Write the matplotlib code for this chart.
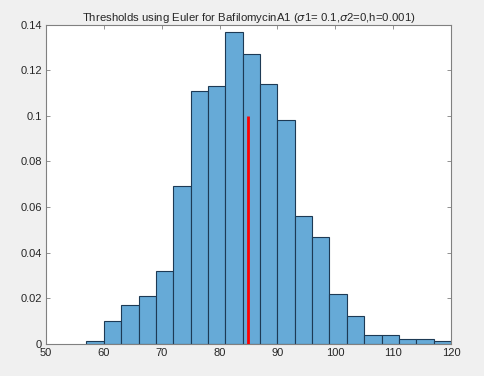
import numpy as np
import matplotlib
matplotlib.use("Agg")
import matplotlib.pyplot as plt

# Histogram of threshold values (probability per bin)
bin_edges = [57, 60, 63, 66, 69, 72, 75, 78, 81, 84, 87, 90, 93, 96, 99,
             102, 105, 108, 111, 114, 117, 120]
probabilities = [0.001, 0.010, 0.017, 0.021, 0.032, 0.069, 0.111, 0.113,
                 0.137, 0.127, 0.114, 0.098, 0.056, 0.047, 0.022, 0.012,
                 0.004, 0.004, 0.002, 0.002, 0.001]
marker_x = 85
marker_top = 0.1

x_ticks = [50, 60, 70, 80, 90, 100, 110, 120]
y_ticks = [0, 0.02, 0.04, 0.06, 0.08, 0.1, 0.12, 0.14]
y_tick_labels = ["0", "0.02", "0.04", "0.06", "0.08", "0.1", "0.12", "0.14"]

plt.rcParams["font.family"] = ["Liberation Sans", "DejaVu Sans"]
plt.rcParams["mathtext.fontset"] = "dejavusans"

fig = plt.figure(figsize=(4.85, 3.76), dpi=100)
fig.patch.set_facecolor("#f0f0f0")
ax = fig.add_axes([0.0948, 0.0859, 0.8351, 0.8484])
ax.set_facecolor("white")

edges = np.array(bin_edges, dtype=float)
widths = np.diff(edges)
ax.bar(edges[:-1], probabilities, width=widths, align="edge",
       color="#66aad7", edgecolor="#1d3a55", linewidth=0.8, zorder=2)

ax.plot([marker_x, marker_x], [0, marker_top], color="#ff0000",
        linewidth=2.0, solid_capstyle="butt", zorder=3)

ax.set_xlim(50, 120)
ax.set_ylim(0, 0.14)
ax.set_xticks(x_ticks)
ax.set_yticks(y_ticks)
ax.set_yticklabels(y_tick_labels)

for s in ax.spines.values():
    s.set_color("#808080")
    s.set_linewidth(0.8)
ax.tick_params(direction="in", length=3, width=0.6, colors="#808080",
               labelcolor="#262626", labelsize=8, top=True, right=True, pad=3)

ax.set_title(r"Thresholds using Euler for BafilomycinA1 ($\sigma$1= 0.1,$\sigma$2=0,h=0.001)",
             fontsize=8.2, color="#262626", pad=3)

fig.savefig("out.png", dpi=100, facecolor=fig.get_facecolor())
